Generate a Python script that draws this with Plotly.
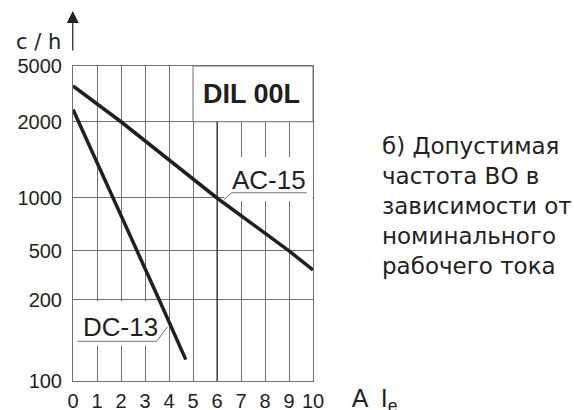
import math
import plotly.graph_objects as go

# ============================================
# Data (DIL 00L, switching frequency vs current)
# ============================================

x_ticks = list(range(0, 11))

y_tick_values = [100, 200, 500, 1000, 2000, 5000]
y_tick_labels = ["100", "200", "500", "1000", "2000", "5000"]

ac15_current = [0, 2, 6, 9, 10]
ac15_rate = [3600, 2000, 1000, 500, 350]

dc13_current = [0, 1.68, 2.67, 3.59, 4.7]
dc13_rate = [2450, 1000, 500, 200, 120]

# the printed chart uses an uneven rate scale: where each tick sits (0 = bottom, 1 = top)
y_scale_pos = [0, 0.258, 0.413, 0.581, 0.823, 1.0]


def rate_to_axis(v):
    # log interpolation between the two neighbouring ticks of the printed scale
    for i in range(len(y_tick_values) - 1):
        lo, hi = y_tick_values[i], y_tick_values[i + 1]
        if lo <= v <= hi:
            f = math.log(v / lo) / math.log(hi / lo)
            return y_scale_pos[i] + f * (y_scale_pos[i + 1] - y_scale_pos[i])
    return None


INK = "#231f20"
GRID = "#707070"
TXT = "DejaVu Sans"
ARIAL = "Liberation Sans"

fig = go.Figure()

for name, xs, ys in [("AC-15", ac15_current, ac15_rate),
                     ("DC-13", dc13_current, dc13_rate)]:
    fig.add_trace(go.Scatter(
        x=xs,
        y=[rate_to_axis(v) for v in ys],
        customdata=ys,
        mode="lines",
        name=name,
        line=dict(color=INK, width=3.5),
        hovertemplate=name + "<br>%{x} A: %{customdata} c/h<extra></extra>",
    ))

# white boxes behind the labels (they hide the grid like in the print)
fig.add_shape(type="rect", x0=5, x1=10, y0=rate_to_axis(2000), y1=1,
              fillcolor="white", line=dict(color=GRID, width=1), layer="between")
fig.add_shape(type="rect", x0=6.3, x1=9.98, y0=0.571, y1=0.711,
              fillcolor="white", line=dict(width=0), layer="between")
fig.add_shape(type="rect", x0=0.05, x1=3.85, y0=0.113, y1=0.252,
              fillcolor="white", line=dict(width=0), layer="between")
# the 6 A line is printed darker
fig.add_shape(type="line", x0=6, x1=6, y0=0, y1=rate_to_axis(2000),
              line=dict(color=INK, width=1), layer="between")

# label underlines with leaders to the curves
fig.add_shape(type="path", path="M 6.29,0.5764 L 6.61,0.5974 L 9.74,0.5974",
              line=dict(color=GRID, width=1))
fig.add_shape(type="path", path="M 0.19,0.126 L 3.49,0.126 L 3.93,0.1716",
              line=dict(color=GRID, width=1))

fig.add_annotation(x=7.45, y=0.910, text="<b>DIL 00L</b>", showarrow=False,
                   font=dict(family=ARIAL, size=27, color=INK))
fig.add_annotation(x=8.17, y=0.6387, text="AC-15", showarrow=False,
                   font=dict(family=ARIAL, size=26, color=INK))
fig.add_annotation(x=1.99, y=0.1716, text="DC-13", showarrow=False,
                   font=dict(family=ARIAL, size=26, color=INK))

# axis caption and the arrow
fig.add_annotation(xref="paper", yref="paper", x=-0.04, y=1.121,
                   xanchor="right", text="c / h", showarrow=False,
                   font=dict(family=TXT, size=21, color=INK))
fig.add_annotation(xref="paper", yref="paper", x=-0.001, y=1.1746,
                   ax=0, ay=41, text="", showarrow=True, arrowhead=2,
                   arrowsize=2, arrowwidth=1.2, arrowcolor=INK)

fig.add_annotation(
    xref="paper", yref="paper", x=1.278, y=0.556,
    xanchor="left", yanchor="middle", align="left", showarrow=False,
    text="б) Допустимая<br>частота ВО в<br>зависимости от<br>номинального<br>рабочего тока",
    font=dict(family=TXT, size=23, color=INK),
)

fig.update_xaxes(
    range=[0, 10], tickvals=x_ticks, ticks="", showgrid=True, automargin=False,
    gridcolor=GRID, gridwidth=1, showline=True, linecolor=GRID, linewidth=1,
    mirror=True, zeroline=False, ticklabelstandoff=2,
    tickfont=dict(family=ARIAL, size=20, color=INK),
)
fig.update_yaxes(
    range=[0, 1], tickvals=y_scale_pos, ticktext=y_tick_labels, ticks="",
    showgrid=True, gridcolor=GRID, gridwidth=1, showline=True, automargin=False,
    linecolor=GRID, linewidth=1, mirror=True, zeroline=False,
    ticklabelstandoff=6, tickfont=dict(family=ARIAL, size=20, color=INK),
)

fig.update_layout(
    width=574, height=410,
    margin=dict(l=73, r=261, t=66, b=29),
    paper_bgcolor="white", plot_bgcolor="white",
    showlegend=False,
    # current unit "A" and symbol I_e, right of the last tick label
    # (the layout title is not pushed up at the page edge like an annotation)
    title=dict(text="A  I<sub>e</sub>", xref="container", yref="container",
               x=0.6127, y=0.0285, xanchor="left", yanchor="middle",
               font=dict(family=ARIAL, size=25, color=INK)),
)

# the page's default body margin would push the figure out of the window
fig.write_html("out.html", config={"displayModeBar": False},
               post_script="document.body.style.margin='0';")
